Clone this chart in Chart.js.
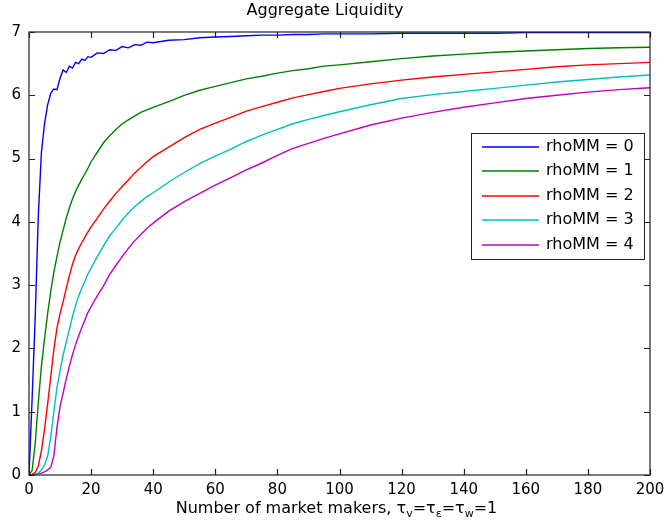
<!DOCTYPE html>
<html>
<head>
<meta charset="utf-8">
<script src="https://cdn.jsdelivr.net/npm/chart.js@4"></script>
<style>
  html, body { margin: 0; padding: 0; background: #fff; }
  #wrap { width: 665px; height: 529px; }
</style>
</head>
<body>
<div id="wrap"><canvas id="liquidityChart"></canvas></div>
<script>
// number of market makers (sampled densely where the curves rise fast)
const makers = [0, 1, 2, 3, 4, 5, 6, 7, 8, 9, 10, 11, 12, 13, 14, 15, 16, 17, 18, 19, 20,
    22, 24, 26, 28, 30, 32, 34, 36, 38, 40,
    45, 50, 55, 60, 65, 70, 75, 80, 85, 90, 95, 100,
    110, 120, 130, 140, 150, 160, 170, 180, 190, 200];

const rho0 = [0, 1.2, 2.5, 4.1, 5.1, 5.55, 5.85, 6.03, 6.1, 6.09, 6.27, 6.4, 6.36, 6.46, 6.43, 6.52, 6.5, 6.57, 6.55, 6.61, 6.6,
    6.67, 6.66, 6.72, 6.71, 6.77, 6.75, 6.8, 6.79, 6.84, 6.83,
    6.87, 6.88, 6.91, 6.92, 6.93, 6.94, 6.95, 6.95, 6.96, 6.96, 6.97, 6.97,
    6.97, 6.98, 6.98, 6.98, 6.98, 6.99, 6.99, 6.99, 6.99, 6.99];
const rho1 = [0, 0.07, 0.5, 1.15, 1.72, 2.15, 2.55, 2.9, 3.2, 3.45, 3.68, 3.87, 4.06, 4.22, 4.36, 4.48, 4.58, 4.67, 4.76, 4.85, 4.95,
    5.1, 5.25, 5.36, 5.46, 5.55, 5.61, 5.67, 5.73, 5.77, 5.81,
    5.9, 6.0, 6.08, 6.14, 6.2, 6.26, 6.3, 6.35, 6.39, 6.42, 6.46, 6.48,
    6.53, 6.58, 6.62, 6.65, 6.68, 6.7, 6.72, 6.74, 6.75, 6.76];
const rho2 = [0, 0.01, 0.04, 0.14, 0.38, 0.72, 1.12, 1.55, 1.98, 2.32, 2.55, 2.74, 2.95, 3.15, 3.33, 3.47, 3.58, 3.67, 3.76, 3.84, 3.92,
    4.06, 4.2, 4.33, 4.45, 4.56, 4.66, 4.77, 4.86, 4.95, 5.03,
    5.18, 5.33, 5.46, 5.56, 5.65, 5.75, 5.82, 5.89, 5.96, 6.01, 6.06, 6.11,
    6.18, 6.24, 6.29, 6.33, 6.37, 6.41, 6.45, 6.48, 6.5, 6.52];
const rho3 = [0, 0, 0.01, 0.03, 0.08, 0.16, 0.3, 0.6, 1.0, 1.38, 1.65, 1.9, 2.1, 2.3, 2.5, 2.68, 2.83, 2.95, 3.06, 3.18, 3.27,
    3.45, 3.62, 3.78, 3.9, 4.03, 4.14, 4.24, 4.32, 4.4, 4.46,
    4.63, 4.78, 4.92, 5.04, 5.15, 5.27, 5.37, 5.46, 5.55, 5.62, 5.68, 5.74,
    5.85, 5.95, 6.01, 6.06, 6.11, 6.16, 6.21, 6.25, 6.29, 6.32];
const rho4 = [0, 0, 0.01, 0.02, 0.03, 0.05, 0.08, 0.12, 0.3, 0.75, 1.08, 1.3, 1.52, 1.72, 1.9, 2.06, 2.2, 2.33, 2.45, 2.57, 2.66,
    2.83, 2.99, 3.17, 3.31, 3.45, 3.58, 3.7, 3.8, 3.9, 3.98,
    4.17, 4.32, 4.45, 4.58, 4.7, 4.82, 4.93, 5.05, 5.16, 5.24, 5.32, 5.39,
    5.53, 5.64, 5.73, 5.81, 5.88, 5.95, 6.0, 6.05, 6.09, 6.12];

const seriesNames = ['rhoMM = 0', 'rhoMM = 1', 'rhoMM = 2', 'rhoMM = 3', 'rhoMM = 4'];
const seriesColors = ['#0000ff', '#008000', '#ff0000', '#00bfbf', '#bf00bf'];
const chartTitle = 'Aggregate Liquidity';
// x axis title, [text, isSubscript]
const xTitleParts = [['Number of market makers, τ', false], ['v', true], ['=τ', false], ['ε', true],
    ['=τ', false], ['w', true], ['=1', false]];

const FONT = 'DejaVu Sans';

const datasets = [rho0, rho1, rho2, rho3, rho4].map((vals, i) => ({
    label: seriesNames[i],
    data: makers.map((m, j) => ({ x: m, y: vals[j] })),
    borderColor: seriesColors[i],
    backgroundColor: seriesColors[i],
    borderWidth: 1.4,
    pointRadius: 0,
    tension: 0,
    fill: false
}));

// box around the axes with inward ticks on all four sides
const axesBox = {
    id: 'axesBox',
    afterDatasetsDraw(chart) {
        const { ctx, chartArea: a, scales } = chart;
        ctx.save();
        ctx.strokeStyle = '#222';
        ctx.lineWidth = 1.2;
        ctx.strokeRect(a.left, a.top, a.right - a.left, a.bottom - a.top);
        ctx.beginPath();
        scales.x.ticks.forEach(t => {
            const px = Math.round(scales.x.getPixelForValue(t.value)) + 0.5;
            ctx.moveTo(px, a.bottom); ctx.lineTo(px, a.bottom - 6);
            ctx.moveTo(px, a.top); ctx.lineTo(px, a.top + 6);
        });
        scales.y.ticks.forEach(t => {
            const py = Math.round(scales.y.getPixelForValue(t.value)) + 0.5;
            ctx.moveTo(a.left, py); ctx.lineTo(a.left + 6, py);
            ctx.moveTo(a.right, py); ctx.lineTo(a.right - 6, py);
        });
        ctx.stroke();
        ctx.restore();
    }
};

// legend box in the upper right of the plot
const boxLegend = {
    id: 'boxLegend',
    afterDraw(chart) {
        const { ctx, chartArea: a } = chart;
        const x0 = a.right - 179, y0 = a.top + 101, w = 173, h = 126;
        ctx.save();
        ctx.fillStyle = '#fff';
        ctx.fillRect(x0, y0, w, h);
        ctx.strokeStyle = '#222';
        ctx.lineWidth = 1;
        ctx.strokeRect(x0 + 0.5, y0 + 0.5, w, h);
        ctx.font = '16px "' + FONT + '"';
        ctx.textBaseline = 'middle';
        ctx.textAlign = 'left';
        chart.data.datasets.forEach((ds, i) => {
            const y = Math.round(y0 + 14 + i * 24.4);
            ctx.strokeStyle = ds.borderColor;
            ctx.lineWidth = 1.6;
            ctx.beginPath();
            ctx.moveTo(x0 + 11, y);
            ctx.lineTo(x0 + 68, y);
            ctx.stroke();
            ctx.fillStyle = '#000';
            ctx.fillText(ds.label, x0 + 75, y);
        });
        ctx.restore();
    }
};

// x axis title with subscripted tau indices
const xAxisTitle = {
    id: 'xAxisTitle',
    afterDraw(chart) {
        const { ctx, chartArea: a } = chart;
        const big = '16px "' + FONT + '"', small = '11px "' + FONT + '"';
        ctx.save();
        ctx.fillStyle = '#000';
        ctx.textBaseline = 'alphabetic';
        ctx.textAlign = 'left';
        let total = 0;
        xTitleParts.forEach(([s, sub]) => {
            ctx.font = sub ? small : big;
            total += ctx.measureText(s).width;
        });
        let x = (a.left + a.right) / 2 - total / 2 - 3;
        const base = a.bottom + 38;
        xTitleParts.forEach(([s, sub]) => {
            ctx.font = sub ? small : big;
            ctx.fillText(s, x, sub ? base + 4 : base);
            x += ctx.measureText(s).width;
        });
        ctx.restore();
    }
};

const ctx = document.getElementById('liquidityChart').getContext('2d');

new Chart(ctx, {
    type: 'line',
    data: { datasets: datasets },
    options: {
        responsive: true,
        maintainAspectRatio: false,
        animation: false,
        layout: { padding: { top: 0, right: 15, bottom: 0, left: 0 } },
        scales: {
            x: {
                type: 'linear',
                min: 0,
                max: 200,
                grid: { display: false, drawTicks: false },
                border: { display: false },
                ticks: {
                    stepSize: 20,
                    padding: 6,
                    maxRotation: 0,
                    color: '#000',
                    font: { family: FONT, size: 15 }
                },
                afterFit(scale) {
                    scale.height = 54;
                    scale.paddingLeft = 0;
                    scale.paddingRight = 0;
                }
            },
            y: {
                min: 0,
                max: 7,
                grid: { display: false, drawTicks: false },
                border: { display: false },
                ticks: {
                    stepSize: 1,
                    padding: 8,
                    color: '#000',
                    font: { family: FONT, size: 15 }
                },
                afterFit(scale) {
                    scale.width = 29;
                    scale.paddingTop = 0;
                    scale.paddingBottom = 0;
                }
            }
        },
        plugins: {
            legend: { display: false },
            tooltip: { enabled: false },
            title: {
                display: true,
                text: chartTitle,
                color: '#000',
                font: { family: FONT, size: 16, weight: 'normal', lineHeight: 1.2 },
                padding: { top: 1, bottom: 11.8 }
            }
        }
    },
    plugins: [axesBox, boxLegend, xAxisTitle]
});
</script>
</body>
</html>
